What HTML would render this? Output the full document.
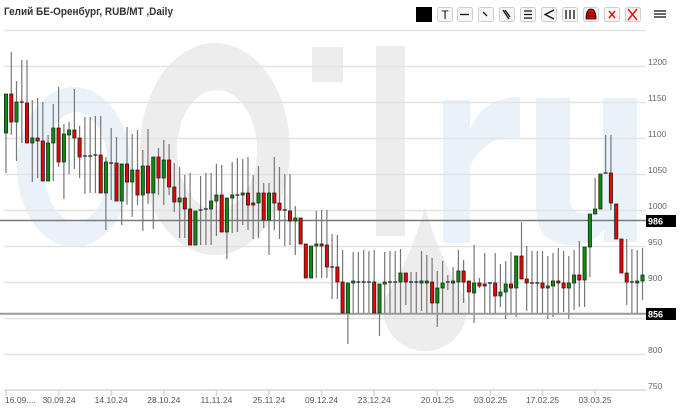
<!DOCTYPE html>
<html><head><meta charset="utf-8"><style>
html,body{margin:0;padding:0;background:#fff;}
svg{display:block;font-family:"Liberation Sans","DejaVu Sans",sans-serif;}
</style></head><body>
<svg width="680" height="411" viewBox="0 0 680 411" xmlns="http://www.w3.org/2000/svg">
<rect width="680" height="411" fill="#fff"/>
<!-- watermark -->
<g fill="#e9f1f9" fill-rule="evenodd">
<path d="M17,167 a57,80 0 1,0 114,0 a57,80 0 1,0 -114,0 Z M44,167 a32,55 0 1,0 64,0 a32,55 0 1,0 -64,0 Z"/>
<rect x="443" y="100" width="27" height="143"/>
<path d="M468,135 Q480,97 520,97 L520,138 Q490,132 470,165 Z"/>
<path d="M536,98 L570,98 L570,198 Q570,214 586,214 Q603,214 603,198 L603,98 L637,98 L637,242 L604,242 L604,230 Q592,245 570,245 Q536,245 536,205 Z"/>
</g>
<g fill="#ededed" fill-rule="evenodd">
<path d="M140,149 a75,106 0 1,0 150,0 a75,106 0 1,0 -150,0 Z M177,150 a40,60 0 1,0 80,0 a40,60 0 1,0 -80,0 Z"/>
<rect x="312" y="47" width="31" height="35"/>
<rect x="376" y="46" width="29" height="190"/>
<path d="M425,207 Q440,260 466,300 A42,42 0 1,1 384,300 Q410,260 425,207 Z"/>
</g>
<!-- gridlines -->
<g stroke="#e3e3e3" stroke-width="1.5">
<line x1="4" x2="646" y1="30.5" y2="30.5"/>
<line x1="4" x2="646" y1="66.5" y2="66.5"/>
<line x1="4" x2="646" y1="102.5" y2="102.5"/>
<line x1="4" x2="646" y1="138.5" y2="138.5"/>
<line x1="4" x2="646" y1="174.5" y2="174.5"/>
<line x1="4" x2="646" y1="210.5" y2="210.5"/>
<line x1="4" x2="646" y1="246.5" y2="246.5"/>
<line x1="4" x2="646" y1="282.5" y2="282.5"/>
<line x1="4" x2="646" y1="318.5" y2="318.5"/>
<line x1="4" x2="646" y1="354.5" y2="354.5"/>
</g>
<!-- x axis -->
<g stroke="#cdd9e6" stroke-width="1.5">
<line x1="4" x2="646" y1="390" y2="390"/>
<path d="M6 390V396M58.6 390V396M111.2 390V396M163.8 390V396M216.4 390V396M269 390V396M321.6 390V396M374.2 390V396M437.3 390V396M490.5 390V396M542.5 390V396M595.1 390V396"/>
</g>
<g fill="#555" font-size="8.5">
<text x="5" y="403">16.09....</text>
<g text-anchor="middle">
<text x="59" y="403">30.09.24</text>
<text x="111.2" y="403">14.10.24</text>
<text x="163.8" y="403">28.10.24</text>
<text x="216.4" y="403">11.11.24</text>
<text x="269" y="403">25.11.24</text>
<text x="321.6" y="403">09.12.24</text>
<text x="374.2" y="403">23.12.24</text>
<text x="437.3" y="403">20.01.25</text>
<text x="490.5" y="403">03.02.25</text>
<text x="542.5" y="403">17.02.25</text>
<text x="595.1" y="403">03.03.25</text>
</g>
</g>
<!-- y labels -->
<g fill="#666" font-size="8.5">
<text x="648" y="65">1200</text>
<text x="648" y="101">1150</text>
<text x="648" y="137">1100</text>
<text x="648" y="173">1050</text>
<text x="648" y="209">1000</text>
<text x="648" y="245">950</text>
<text x="648" y="281">900</text>
<text x="648" y="353">800</text>
<text x="648" y="389">750</text>
</g>
<!-- wicks -->
<path stroke="#777" stroke-width="1.2" fill="none" d="M6 94V173M11.3 52V135M16.5 81V161M21.8 60V143M27 60V143M32.3 100V182M37.6 98V178M42.8 102V181M48.1 135V181M53.3 104V181M58.6 87V167M63.9 124V199M69.1 122V174M74.4 89V169M79.6 126V178M84.9 117V194M90.2 117V193M95.4 116V193M100.7 116V193M105.9 157V230M111.2 128V200M116.5 137V201M121.7 164V225M127 127V205M132.2 134V217M137.5 130V205M142.8 150V231M148 129V204M153.3 157V229M158.5 148V195M163.8 140V205M169.1 144V195M174.3 163V212M179.6 167V238M184.8 175V238M190.1 173V245M195.4 211V245M200.6 176V245M205.9 173V245M211.1 173V245M216.4 164V236M221.7 165V232M226.9 198V259M232.2 162V233M237.4 158V232M242.7 159V225M248 157V230M253.2 175V239M258.5 166V238M263.7 183V228M269 183V255M274.3 157V230M279.5 167V239M284.8 174V246M290 174V245M295.3 206V255M300.6 218V244M305.8 244V278M311.1 246V278M316.3 211V278M321.6 210V278M326.9 210V278M332.1 234V299M337.4 235V299M342.6 250V313M347.9 283V344M353.2 252V315M358.4 252V313M363.7 250V313M368.9 251V313M374.2 250V313M379.5 284V336M384.7 252V313M390 251V313M395.2 251V313M400.5 249V313M405.8 273V305M411 272V313M416.3 272V313M421.5 251V311M426.8 255V313M432.1 258V313M437.3 271V327M442.6 261V313M447.8 275V290M453.1 267V313M458.4 250V313M463.6 260V303M468.9 281V313M474.1 245V323M479.4 278V288M484.7 253V313M489.9 282V313M495.2 253V314M500.4 264V307M505.7 261V319M511 252V315M516.2 256V317M521.5 222V279M526.7 246V311M532 251V313M537.3 251V313M542.5 251V313M547.8 256V319M553 253V317M558.3 248V313M563.6 251V312M568.8 256V319M574.1 250V310M579.3 241V307M584.6 247V307M589.9 214V277M595.1 178V214M600.4 174V209M605.6 135V173M610.9 135V210M616.2 204V239M621.4 239V273M626.7 239V305M631.9 249V313M637.2 250V313M642.5 248V300"/>
<!-- level lines -->
<line x1="0" x2="646" y1="220.5" y2="220.5" stroke="#7a7a7a" stroke-width="1.5"/>
<line x1="0" x2="646" y1="313.8" y2="313.8" stroke="#999" stroke-width="2"/>
<!-- green bodies -->
<path fill="#0c8c0c" stroke="#1e2a1e" stroke-width="0.8" d="M4.4 94h3.2V133h-3.2ZM14.9 102h3.2V122h-3.2ZM30.7 138h3.2V143h-3.2ZM46.5 143h3.2V181h-3.2ZM51.7 128h3.2V143h-3.2ZM62.3 134h3.2V162h-3.2ZM67.5 130h3.2V135h-3.2ZM104.3 162h3.2V193h-3.2ZM120.1 164h3.2V201h-3.2ZM130.6 170h3.2V182h-3.2ZM141.2 166h3.2V195h-3.2ZM151.7 157h3.2V193h-3.2ZM162.2 160h3.2V178h-3.2ZM178 198h3.2V202h-3.2ZM193.8 211h3.2V245h-3.2ZM209.5 201h3.2V209h-3.2ZM214.8 195h3.2V201h-3.2ZM225.3 198h3.2V232h-3.2ZM230.6 195h3.2V198h-3.2ZM241.1 193h3.2V195h-3.2ZM256.9 193h3.2V203h-3.2ZM267.4 193h3.2V220h-3.2ZM293.7 218h3.2V221h-3.2ZM309.5 246h3.2V278h-3.2ZM314.7 244h3.2V246h-3.2ZM346.3 283h3.2V313h-3.2ZM351.6 281h3.2V283h-3.2ZM377.9 284h3.2V313h-3.2ZM383.1 282h3.2V284h-3.2ZM398.9 273h3.2V282h-3.2ZM419.9 281h3.2V283h-3.2ZM425.2 281h3.2V283h-3.2ZM435.7 288h3.2V303h-3.2ZM441 283h3.2V288h-3.2ZM451.5 281h3.2V283h-3.2ZM456.8 271h3.2V282h-3.2ZM472.5 283h3.2V293h-3.2ZM498.8 292h3.2V296h-3.2ZM504.1 284h3.2V292h-3.2ZM514.6 256h3.2V288h-3.2ZM546.2 286h3.2V288h-3.2ZM551.4 281h3.2V286h-3.2ZM567.2 283h3.2V288h-3.2ZM572.5 275h3.2V283h-3.2ZM583 247h3.2V280h-3.2ZM588.3 214h3.2V247h-3.2ZM593.5 209h3.2V214h-3.2ZM598.8 174h3.2V209h-3.2ZM635.6 281h3.2V283h-3.2ZM640.9 275h3.2V281h-3.2Z"/>
<!-- red bodies -->
<path fill="#f00000" stroke="#2a1a1a" stroke-width="0.8" d="M9.7 94h3.2V122h-3.2ZM25.4 103h3.2V143h-3.2ZM36 138h3.2V141h-3.2ZM41.2 141h3.2V181h-3.2ZM57 128h3.2V162h-3.2ZM72.8 130h3.2V138h-3.2ZM78 138h3.2V157h-3.2ZM99.1 155h3.2V193h-3.2ZM114.9 163h3.2V201h-3.2ZM125.4 164h3.2V182h-3.2ZM135.9 170h3.2V195h-3.2ZM146.4 166h3.2V193h-3.2ZM156.9 157h3.2V178h-3.2ZM167.5 160h3.2V187h-3.2ZM172.7 187h3.2V202h-3.2ZM183.2 198h3.2V209h-3.2ZM188.5 209h3.2V245h-3.2ZM220.1 195h3.2V232h-3.2ZM246.4 193h3.2V205h-3.2ZM251.6 203h3.2V205h-3.2ZM262.1 193h3.2V220h-3.2ZM272.7 193h3.2V203h-3.2ZM277.9 203h3.2V210h-3.2ZM288.4 211h3.2V221h-3.2ZM299 218h3.2V244h-3.2ZM304.2 244h3.2V278h-3.2ZM320 244h3.2V246h-3.2ZM325.3 245h3.2V267h-3.2ZM335.8 267h3.2V282h-3.2ZM341 282h3.2V313h-3.2ZM372.6 282h3.2V313h-3.2ZM404.2 273h3.2V282h-3.2ZM430.5 282h3.2V303h-3.2ZM462 271h3.2V282h-3.2ZM467.3 281h3.2V292h-3.2ZM477.8 283h3.2V286h-3.2ZM483.1 284h3.2V286h-3.2ZM493.6 283h3.2V296h-3.2ZM509.4 284h3.2V288h-3.2ZM519.9 256h3.2V279h-3.2ZM525.1 279h3.2V283h-3.2ZM540.9 283h3.2V288h-3.2ZM556.7 281h3.2V283h-3.2ZM562 283h3.2V288h-3.2ZM577.7 275h3.2V280h-3.2ZM609.3 173h3.2V203h-3.2ZM614.6 204h3.2V239h-3.2ZM619.8 239h3.2V273h-3.2ZM625.1 273h3.2V282h-3.2Z"/>
<!-- doji -->
<path stroke="#222" stroke-width="1.2" d="M19.8 102h4M82.9 156h4M88.2 156h4M93.4 155h4M109.2 163h4M198.6 210h4M203.9 209h4M235.4 195h4M282.8 210h4M330.1 267h4M356.4 282h4M361.7 282h4M366.9 282h4M388 282h4M393.2 282h4M409 282h4M414.3 282h4M445.8 282h4M487.9 283h4M530 283h4M535.3 283h4M603.6 173h4M629.9 282h4"/>
<!-- level boxes -->
<rect x="646" y="215" width="30" height="12" fill="#000"/>
<text x="648" y="224.5" fill="#fff" font-size="9" font-weight="bold">986</text>
<rect x="646" y="308" width="30" height="12" fill="#000"/>
<text x="648" y="317.5" fill="#fff" font-size="9" font-weight="bold">856</text>
<!-- title -->
<text x="4" y="15" fill="#333" font-size="11" font-weight="bold" textLength="169" lengthAdjust="spacingAndGlyphs" style="font-family:'Liberation Sans','Noto Sans CJK SC',sans-serif">Гелий БЕ-Оренбург, RUB/MT ,Daily</text>
<!-- toolbar -->
<rect x="416" y="7" width="16" height="15" fill="#000"/>
<g fill="#f6f6f6" stroke="#cfcfcf" stroke-width="1">
<rect x="437.5" y="7.5" width="15" height="14" rx="2"/>
<rect x="457.5" y="7.5" width="15" height="14" rx="2"/>
<rect x="478.5" y="7.5" width="15" height="14" rx="2"/>
<rect x="499.5" y="7.5" width="15" height="14" rx="2"/>
<rect x="520.5" y="7.5" width="15" height="14" rx="2"/>
<rect x="541.5" y="7.5" width="15" height="14" rx="2"/>
<rect x="562.5" y="7.5" width="15" height="14" rx="2"/>
<rect x="583.5" y="7.5" width="15" height="14" rx="2"/>
<rect x="604.5" y="7.5" width="15" height="14" rx="2"/>
<rect x="625.5" y="7.5" width="15" height="14" rx="2"/>
</g>
<text x="445" y="19" fill="#111" font-size="12" text-anchor="middle">T</text>
<g stroke="#111" stroke-width="1.3" fill="none">
<path d="M460 14.5h9"/>
<path d="M483 12l4 4"/>
<path d="M503 10l6 9M505 10l5 7"/>
<path d="M524 11h8M524 14.5h8M524 18h8"/>
<path d="M554 10l-9 4.5 9 4.5"/>
<path d="M566 10v9M570 10v9M574 10v9"/>
</g>
<path d="M586 19 Q586 9 591 9 Q596 9 596 19 Z" fill="#e00" stroke="#000" stroke-width="0.8"/>
<path d="M586.5 13h9M586.5 16h9" stroke="#000" stroke-width="0.8"/>
<path d="M609 11l6 7M615 11l-6 7" stroke="#f00" stroke-width="1.4"/>
<path d="M628 9l9 11M637 9l-9 11" stroke="#f00" stroke-width="1.4"/>
<path d="M654 11h12M654 14h12M654 17h12" stroke="#333" stroke-width="1.5"/>
</svg>
</body></html>
